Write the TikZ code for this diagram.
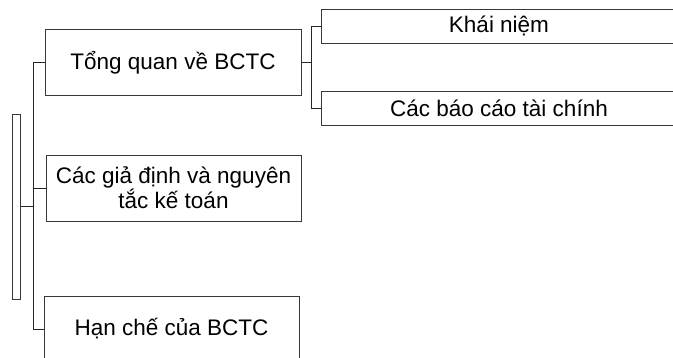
\documentclass[tikz,border=0pt]{standalone}
\usepackage{fontspec}
\setmainfont{Liberation Sans}
\begin{document}
\begin{tikzpicture}[x=1pt,y=-1pt,
  box/.style={draw=black!78, line width=0.9pt, rectangle, inner sep=0pt,
    font=\fontsize{22.5}{22.5}\selectfont, align=center, text=black},
  link/.style={draw=black!85, line width=0.9pt}]
\useasboundingbox (0,0) rectangle (673,358);
\clip (0,0) rectangle (673,358);
% root bar
\node[box, minimum width=8.4pt, minimum height=185pt] (root) at (16.5,206.5) {};
% first level
\node[box, minimum width=256pt, minimum height=66.5pt] (tq) at (173,62.7) {Tổng quan về BCTC};
\node[box, minimum width=255pt, minimum height=66pt] (gd) at (173.5,188) {Các giả định và nguyên\\tắc kế toán};
\node[box, minimum width=255pt, minimum height=66pt] (hc) at (171.5,329) {Hạn chế của BCTC};
% second level
\node[box, minimum width=355pt, minimum height=34pt] (kn) at (499,26.3) {Khái niệm};
\node[box, minimum width=355pt, minimum height=34.3pt] (bc) at (499,108.8) {Các báo cáo tài chính};
% connectors
\coordinate (s1) at (33.5,206.5);
\draw[link] (root.east) -- (s1);
\draw[link] (s1) |- (tq.west);
\draw[link] (s1) |- (gd.west);
\draw[link] (s1) |- (hc.west);
\coordinate (s2) at (311,62.7);
\draw[link] (tq.east) -- (s2);
\draw[link] (s2) |- (kn.west);
\draw[link] (s2) |- (bc.west);
\end{tikzpicture}
\end{document}
